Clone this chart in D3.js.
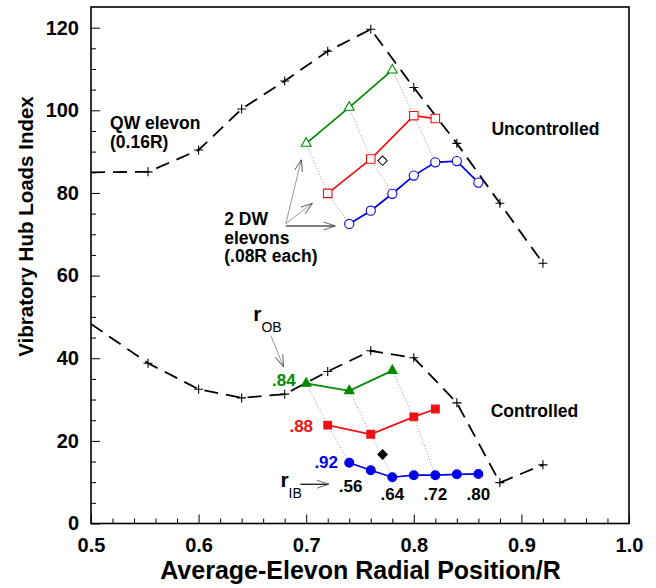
<!DOCTYPE html>
<html>
<head>
<meta charset="utf-8">
<script src="https://cdn.jsdelivr.net/npm/d3@7/dist/d3.min.js"></script>
<style>
  html, body { margin: 0; padding: 0; background: #fff; }
  svg { display: block; }
  text { font-family: "Liberation Sans", Arial, Helvetica, sans-serif; font-weight: bold; }
</style>
</head>
<body>
<div id="chart"></div>
<script>
// ---------------- data ----------------
const xTicks = [0.5, 0.6, 0.7, 0.8, 0.9, 1.0];
const yTicks = [0, 20, 40, 60, 80, 100, 120];

// QW elevon (0.16R) – dashed black curves
const qwX            = [0.5, 0.553, 0.60, 0.64, 0.68, 0.72, 0.76, 0.80, 0.84, 0.88, 0.92];
const qwUncontrolled = [85.0, 85.1, 90.4, 100.3, 107.1, 114.3, 119.6, 105.5, 92.0, 77.5, 63.0];
const qwControlled   = [48.3, 38.8, 32.5, 30.4, 31.3, 36.8, 41.8, 40.1, 29.2, 9.9, 14.2];

// 2 DW elevons, r_OB = .84 (green)
const g84X    = [0.70, 0.74, 0.78];
const g84Rib  = [0.56, 0.64, 0.72];
const g84Unc  = [92.0, 100.7, 109.7];
const g84Ctl  = [33.9, 32.1, 37.0];

// r_OB = .88 (red)
const r88X    = [0.72, 0.76, 0.80, 0.82];
const r88Rib  = [0.56, 0.64, 0.72, 0.76];
const r88Unc  = [79.9, 88.2, 98.7, 98.0];
const r88Ctl  = [23.8, 21.6, 25.8, 27.7];

// r_OB = .92 (blue)
const b92X    = [0.74, 0.76, 0.78, 0.80, 0.82, 0.84, 0.86];
const b92Rib  = [0.56, 0.60, 0.64, 0.68, 0.72, 0.76, 0.80];
const b92Unc  = [72.5, 75.7, 79.8, 84.2, 87.4, 87.7, 82.5];
const b92Ctl  = [14.7, 12.9, 11.2, 11.7, 11.7, 11.9, 12.0];

// constant r_IB guide lines
const ribGuides = [0.56, 0.64, 0.72];

// single diamond points
const diamondX = [0.771];
const diamondUnc = [87.8];
const diamondCtl = [16.7];

// labels
const ribLabels = [".56", ".64", ".72", ".80"];
const ribLabelX = [0.74, 0.78, 0.82, 0.86];

// ---------------- layout ----------------
const W = 656, H = 588;
const L = 91, R = 629, T = 7, B = 523.5;
const GREEN = "#008a00", RED = "#ee1111", BLUE = "#0000e8", GREY = "#808080";

const svg = d3.select("#chart").append("svg").attr("width", W).attr("height", H);
const x = d3.scaleLinear().domain([0.5, 1.0]).range([L, R]);
const y = d3.scaleLinear().domain([0, 125]).range([B, T]);

const defs = svg.append("defs");
defs.append("clipPath").attr("id", "clip").append("rect")
  .attr("x", L).attr("y", T).attr("width", R - L).attr("height", B - T);
defs.append("marker").attr("id", "arr")
  .attr("viewBox", "0 0 12 10").attr("refX", 12).attr("refY", 5)
  .attr("markerWidth", 12).attr("markerHeight", 10)
  .attr("markerUnits", "userSpaceOnUse").attr("orient", "auto")
  .append("path").attr("d", "M0,1 L12,5 L0,9").attr("fill", "none")
  .attr("stroke", "#555").attr("stroke-width", 0.9);

// ---------------- axes ----------------
const xMinor = d3.range(0.52, 1.0, 0.02).filter(v => Math.abs(v * 10 - Math.round(v * 10)) > 1e-6);
const yMinor = d3.range(5, 125, 5).filter(v => v % 20 !== 0);

const gx = svg.append("g").attr("transform", `translate(0,${B})`)
  .call(d3.axisBottom(x).tickValues(xTicks).tickFormat(d3.format(".1f"))
    .tickSizeInner(-9).tickSizeOuter(0).tickPadding(13.8));
svg.append("g").attr("transform", `translate(0,${B})`)
  .call(d3.axisBottom(x).tickValues(xMinor).tickFormat("").tickSizeInner(-5).tickSizeOuter(0));
const gy = svg.append("g").attr("transform", `translate(${L},0)`)
  .call(d3.axisLeft(y).tickValues(yTicks).tickFormat(d3.format("d"))
    .tickSizeInner(-9).tickSizeOuter(0).tickPadding(12));
svg.append("g").attr("transform", `translate(${L},0)`)
  .call(d3.axisLeft(y).tickValues(yMinor).tickFormat("").tickSizeInner(-5).tickSizeOuter(0));

svg.selectAll(".domain").remove();
svg.selectAll(".tick line").attr("stroke", "#000").attr("stroke-width", 1);
gx.selectAll("text").attr("font-size", 20).attr("fill", "#000").attr("font-family", null);
gy.selectAll("text").attr("font-size", 20).attr("fill", "#000").attr("font-family", null);

svg.append("rect").attr("x", L).attr("y", T).attr("width", R - L).attr("height", B - T)
  .attr("fill", "none").attr("stroke", "#000").attr("stroke-width", 1.6);

svg.append("text").attr("x", 360.5).attr("y", 579)
  .attr("text-anchor", "middle").attr("font-size", 25).text("Average-Elevon Radial Position/R");
svg.append("text").attr("transform", "translate(33,226.5) rotate(-90)")
  .attr("text-anchor", "middle").attr("font-size", 20.5).text("Vibratory Hub Loads Index");

// ---------------- marks ----------------
const plot = svg.append("g").attr("clip-path", "url(#clip)");
const pts = (xs, ys) => xs.map((v, i) => [v, ys[i]]);
const line = d3.line().x(d => x(d[0])).y(d => y(d[1]));

// dotted r_IB guides
const series = [
  {xs: g84X, rib: g84Rib, unc: g84Unc, ctl: g84Ctl},
  {xs: r88X, rib: r88Rib, unc: r88Unc, ctl: r88Ctl},
  {xs: b92X, rib: b92Rib, unc: b92Unc, ctl: b92Ctl}
];
["unc", "ctl"].forEach(key => {
  ribGuides.forEach(rib => {
    const p = series.map(s => {
      const i = s.rib.findIndex(v => Math.abs(v - rib) < 1e-6);
      return [s.xs[i], s[key][i]];
    });
    plot.append("path").attr("d", line(p)).attr("fill", "none")
      .attr("stroke", "#888").attr("stroke-width", 0.9).attr("stroke-dasharray", "1,2");
  });
});

// QW dashed curves
[qwUncontrolled, qwControlled].forEach(ys => {
  const p = pts(qwX, ys);
  plot.append("path").attr("d", line(p)).attr("fill", "none")
    .attr("stroke", "#000").attr("stroke-width", 1.8).attr("stroke-dasharray", "14,8");
  plot.selectAll(null).data(p.filter(d => d[0] > 0.5)).enter().append("path")
    .attr("d", d => `M${x(d[0]) - 4.5},${y(d[1])}h9M${x(d[0])},${y(d[1]) - 4.5}v9`)
    .attr("stroke", "#000").attr("stroke-width", 1.1).attr("fill", "none");
});

// coloured series
function drawSeries(xs, ys, color, symType, size, filled) {
  const p = pts(xs, ys);
  plot.append("path").attr("d", line(p)).attr("fill", "none")
    .attr("stroke", color).attr("stroke-width", 1.7);
  plot.selectAll(null).data(p).enter().append("path")
    .attr("transform", d => `translate(${x(d[0])},${y(d[1])})`)
    .attr("d", d3.symbol().type(symType).size(size))
    .attr("fill", filled ? color : "#fff").attr("stroke", color).attr("stroke-width", 1.1);
}
drawSeries(g84X, g84Unc, GREEN, d3.symbolTriangle, 42, false);
drawSeries(r88X, r88Unc, RED, d3.symbolSquare, 72, false);
drawSeries(b92X, b92Unc, BLUE, d3.symbolCircle, 66, false);
drawSeries(g84X, g84Ctl, GREEN, d3.symbolTriangle, 40, true);
drawSeries(r88X, r88Ctl, RED, d3.symbolSquare, 60, true);
drawSeries(b92X, b92Ctl, BLUE, d3.symbolCircle, 62, true);

// diamonds (rotated squares)
plot.selectAll(null).data(pts(diamondX, diamondUnc)).enter().append("path")
  .attr("transform", d => `translate(${x(d[0])},${y(d[1])}) rotate(45)`)
  .attr("d", d3.symbol().type(d3.symbolSquare).size(44))
  .attr("fill", "#fff").attr("stroke", "#000").attr("stroke-width", 1);
plot.selectAll(null).data(pts(diamondX, diamondCtl)).enter().append("path")
  .attr("transform", d => `translate(${x(d[0])},${y(d[1])}) rotate(45)`)
  .attr("d", d3.symbol().type(d3.symbolSquare).size(44))
  .attr("fill", "#000").attr("stroke", "#000").attr("stroke-width", 1);

// ---------------- annotations ----------------
function txt(xv, yv, lines, opts = {}) {
  const t = svg.append("text").attr("x", x(xv)).attr("y", y(yv))
    .attr("font-size", opts.size || 17.5).attr("fill", opts.color || "#000")
    .attr("text-anchor", opts.anchor || "start");
  lines.forEach((s, i) => t.append("tspan").attr("x", x(xv)).attr("dy", i === 0 ? 0 : (opts.lh || 18.5)).text(s));
  return t;
}
txt(0.5177, 95.4, ["QW elevon", "(0.16R)"], {lh: 19});
txt(0.8722, 94.0, ["Uncontrolled"]);
txt(0.8715, 25.8, ["Controlled"]);
txt(0.6238, 72.2, ["2 DW", "elevons", "(.08R each)"], {lh: 18.4});

txt(0.6683, 33.3, [".84"], {size: 17, color: GREEN});
txt(0.6844, 22.2, [".88"], {size: 17, color: RED});
txt(0.7076, 13.4, [".92"], {size: 17, color: BLUE});
ribLabels.forEach((s, i) => {
  if (i === 0) txt(0.7303, 7.7, [s], {size: 17});
  else txt(ribLabelX[i], 5.7, [s], {size: 17, anchor: "middle"});
});

function subLabel(xv, yv, main, sub) {
  const t = svg.append("text").attr("x", x(xv)).attr("y", y(yv))
    .attr("font-family", "'Liberation Serif', 'Times New Roman', serif")
    .attr("font-weight", "bold").attr("fill", "#000");
  t.append("tspan").attr("font-size", 21).text(main);
  t.append("tspan").attr("font-size", 14).attr("font-weight", "normal").attr("dy", 11.5).text(sub);
}
subLabel(0.6508, 49.1, "r", "OB");
subLabel(0.676, 8.9, "r", "IB");

function arrow(x1, y1, x2, y2, color) {
  svg.append("line").attr("x1", x(x1)).attr("y1", y(y1)).attr("x2", x(x2)).attr("y2", y(y2))
    .attr("stroke", color).attr("stroke-width", color === "#000" ? 1.2 : 0.8)
    .attr("marker-end", "url(#arr)");
}
arrow(0.6811, 72.6, 0.6955, 88.1, GREY);
arrow(0.6811, 72.6, 0.7058, 77.5, GREY);
arrow(0.6811, 72.0, 0.7272, 72.0, "#000");
arrow(0.6673, 45.4, 0.679, 37.9, GREY);
arrow(0.6946, 9.5, 0.721, 9.5, "#000");
</script>
</body>
</html>
